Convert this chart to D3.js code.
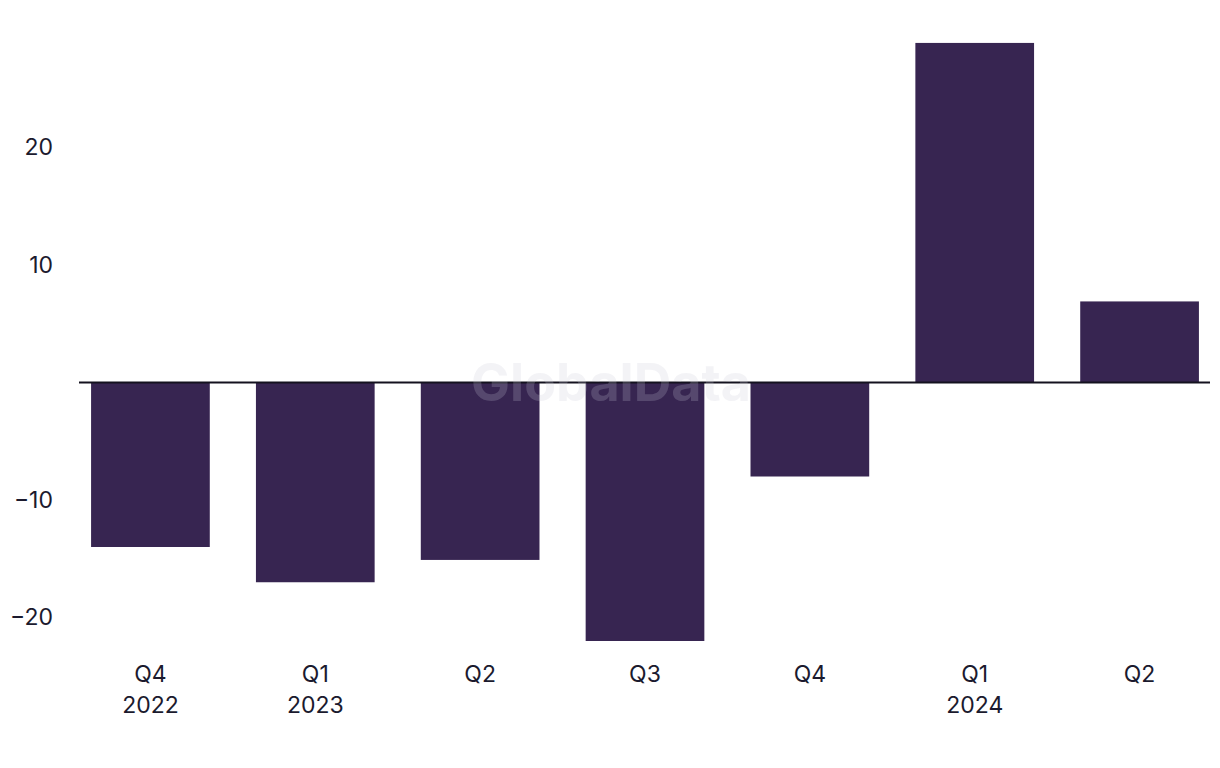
<!DOCTYPE html>
<html>
<head>
<meta charset="utf-8">
<script src="https://cdn.jsdelivr.net/npm/d3@7"></script>
<style>
  html, body { margin: 0; padding: 0; background: #ffffff; }
  svg { display: block; }
  text { font-family: Inter, "Noto Sans", sans-serif; }
</style>
</head>
<body>
<svg id="chart" width="1220" height="768"></svg>
<script>
const categories = ["Q4 2022", "Q1 2023", "Q2 2023", "Q3 2023", "Q4 2023", "Q1 2024", "Q2 2024"];
const quarterLabels = ["Q4", "Q1", "Q2", "Q3", "Q4", "Q1", "Q2"];
const yearLabels = ["2022", "2023", "", "", "", "2024", ""];
const values = [-14.0, -17.0, -15.1, -22.0, -8.0, 28.9, 6.9];
const yTicks = [-20, -10, 10, 20];

const svg = d3.select("#chart");

const x = d3.scaleBand()
  .domain(categories)
  .range([68, 1222])
  .paddingInner(0.28)
  .paddingOuter(0.14);

const y = d3.scaleLinear()
  .domain([-24, 31])
  .range([664.5, 18.25]);

const barColor = "#372551";
const textColor = "#1b1a2e";
const fontSize = "23px";

// Bars
svg.append("g")
  .selectAll("rect")
  .data(values)
  .join("rect")
  .attr("x", (d, i) => x(categories[i]))
  .attr("width", x.bandwidth())
  .attr("y", d => y(Math.max(0, d)))
  .attr("height", d => Math.abs(y(d) - y(0)))
  .attr("fill", barColor);

// Zero line
svg.append("line")
  .attr("x1", 79)
  .attr("x2", 1210)
  .attr("y1", y(0))
  .attr("y2", y(0))
  .attr("stroke", "#14121f")
  .attr("stroke-width", 2);

// Y axis labels
const yAxis = d3.axisLeft(y)
  .tickValues(yTicks)
  .tickSize(0)
  .tickPadding(0)
  .tickFormat(d => d < 0 ? "\u2212" + Math.abs(d) : String(d));

const gy = svg.append("g")
  .attr("transform", "translate(53,0)")
  .call(yAxis);
gy.select(".domain").remove();
gy.selectAll("text")
  .attr("fill", textColor)
  .style("font-size", fontSize)
  .style("font-family", "Inter, 'Noto Sans', sans-serif");

// X axis labels
const xAxis = d3.axisBottom(x)
  .tickSize(0)
  .tickPadding(0)
  .tickFormat(() => "");
const gx = svg.append("g")
  .attr("transform", "translate(0,658)")
  .call(xAxis);
gx.select(".domain").remove();
gx.selectAll(".tick").each(function(d, i) {
  const t = d3.select(this).select("text")
    .attr("fill", textColor)
    .attr("text-anchor", "middle")
    .attr("dy", null)
    .attr("y", 0)
    .style("font-size", fontSize)
    .style("font-family", "Inter, 'Noto Sans', sans-serif");
  t.append("tspan").attr("x", 0).attr("y", 24).text(quarterLabels[i]);
  if (yearLabels[i]) {
    t.append("tspan").attr("x", 0).attr("y", 55).text(yearLabels[i]);
  }
});

// Watermark
svg.append("text")
  .attr("x", 611)
  .attr("y", 401)
  .attr("text-anchor", "middle")
  .style("font-size", "52px")
  .style("font-weight", "700")
  .style("font-family", "Inter, 'Noto Sans', sans-serif")
  .attr("fill", "#c9c8d6")
  .attr("fill-opacity", 0.22)
  .text("GlobalData");
</script>
</body>
</html>
